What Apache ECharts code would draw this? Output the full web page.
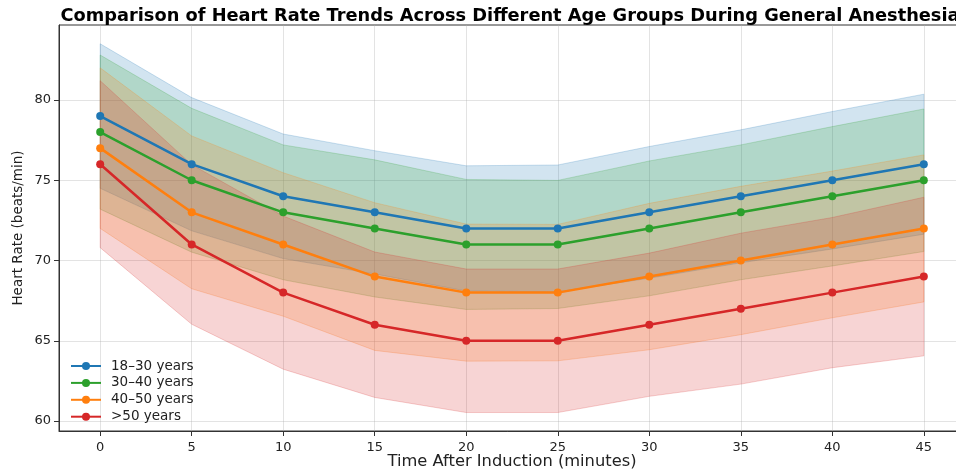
<!DOCTYPE html>
<html><head><meta charset="utf-8">
<script src="https://cdn.jsdelivr.net/npm/echarts@6/dist/echarts.min.js"></script>
<style>html,body{margin:0;padding:0;background:#fff}#c{width:956px;height:470px}</style>
</head><body><div id="c"></div>
<script>
const times = [0, 5, 10, 15, 20, 25, 30, 35, 40, 45];
const groupNames = ['18–30 years', '30–40 years', '40–50 years', '>50 years'];
const hr18to30 = [79, 76, 74, 73, 72, 72, 73, 74, 75, 76];
const hr30to40 = [78, 75, 73, 72, 71, 71, 72, 73, 74, 75];
const hr40to50 = [77, 73, 71, 69, 68, 68, 69, 70, 71, 72];
const hrOver50 = [76, 71, 68, 66, 65, 65, 66, 67, 68, 69];
// half-width of shaded band (beats/min)
const band18to30 = [4.5, 4.15, 3.88, 3.84, 3.9, 3.95, 4.1, 4.14, 4.28, 4.36];
const band30to40 = [4.8, 4.48, 4.2, 4.27, 4.05, 3.99, 4.2, 4.2, 4.34, 4.44];
const band40to50 = [5.0, 4.76, 4.47, 4.6, 4.27, 4.25, 4.56, 4.62, 4.57, 4.58];
const bandOver50 = [5.2, 4.97, 4.77, 4.53, 4.47, 4.47, 4.46, 4.7, 4.68, 4.94];
const xTicks = [0, 5, 10, 15, 20, 25, 30, 35, 40, 45];
const yTicks = [60, 65, 70, 75, 80];

const colors = ['#1f77b4', '#2ca02c', '#ff7f0e', '#d62728'];
const means = [hr18to30, hr30to40, hr40to50, hrOver50];
const bands = [band18to30, band30to40, band40to50, bandOver50];

function bandRender(color) {
  return function (params, api) {
    if (params.dataIndexInside !== 0) return;
    const n = params.dataInsideLength;
    const upper = [], lower = [];
    for (let k = 0; k < n; k++) {
      const t = api.value(0, k);
      upper.push(api.coord([t, api.value(2, k)]));
      lower.push(api.coord([t, api.value(1, k)]));
    }
    const pts = upper.concat(lower.reverse());
    return {
      type: 'polygon',
      shape: { points: pts },
      style: { fill: color, opacity: 1, fillOpacity: 0.2, stroke: color, strokeOpacity: 0.22, lineWidth: 1 },
      silent: true
    };
  };
}

const series = [];
means.forEach((m, i) => {
  series.push({
    name: 'band-' + i, type: 'custom', z: 1, silent: true,
    renderItem: bandRender(colors[i]),
    encode: { x: 0, y: [1, 2] },
    data: m.map((v, j) => [times[j], v - bands[i][j], v + bands[i][j]])
  });
});
means.forEach((m, i) => {
  series.push({
    name: groupNames[i], type: 'line', data: m.map((v, j) => [times[j], v]),
    symbol: 'circle', symbolSize: 8, z: 5,
    itemStyle: { color: colors[i] },
    lineStyle: { color: colors[i], width: 2.5 }
  });
});

const chart = echarts.init(document.getElementById('c'));
chart.setOption({
  animation: false,
  textStyle: { fontFamily: 'DejaVu Sans' },
  title: {
    text: 'Comparison of Heart Rate Trends Across Different Age Groups During General Anesthesia',
    left: 505, top: 2, textAlign: 'center',
    textStyle: { fontFamily: 'DejaVu Sans', fontWeight: 'bold', fontSize: 17.8, color: '#000' }
  },
  legend: {
    data: groupNames, orient: 'vertical', left: 70, top: 359, padding: 0,
    itemWidth: 30, itemHeight: 10, itemGap: 2.9,
    textStyle: { fontFamily: 'DejaVu Sans', fontSize: 13.5, color: '#222', lineHeight: 14, padding: [0, 0, 0, 5] }
  },
  grid: { left: 59, top: 25, width: 906, height: 406, show: true, borderColor: '#333', borderWidth: 1, containLabel: false, outerBoundsMode: 'none' },
  xAxis: {
    type: 'value', min: -2.25, max: 47.25,
    name: 'Time After Induction (minutes)', nameLocation: 'middle', nameGap: 23, nameMoveOverlap: false,
    nameTextStyle: { fontFamily: 'DejaVu Sans', fontSize: 16.3, color: '#222' },
    axisLine: { onZero: false, lineStyle: { color: '#333', width: 1 } },
    axisTick: { show: true, length: 5, inside: false, customValues: xTicks, lineStyle: { color: '#333' } },
    axisLabel: { customValues: xTicks, fontSize: 13, color: '#222', margin: 10, fontFamily: 'DejaVu Sans' },
    splitLine: { show: true, lineStyle: { color: '#b0b0b0', opacity: 0.35, width: 1 } }
  },
  yAxis: {
    type: 'value', min: 59.38, max: 84.67,
    name: 'Heart Rate (beats/min)', nameLocation: 'middle', nameGap: 34, nameMoveOverlap: false,
    nameTextStyle: { fontFamily: 'DejaVu Sans', fontSize: 13.5, color: '#222' },
    axisLine: { show: true, onZero: false, lineStyle: { color: '#333', width: 1 } },
    axisTick: { show: true, length: 5, customValues: yTicks, lineStyle: { color: '#333' } },
    axisLabel: { customValues: yTicks, fontSize: 13, color: '#222', margin: 8, fontFamily: 'DejaVu Sans' },
    splitLine: { show: true, lineStyle: { color: '#b0b0b0', opacity: 0.35, width: 1 } }
  },
  series: series
});
</script></body></html>
